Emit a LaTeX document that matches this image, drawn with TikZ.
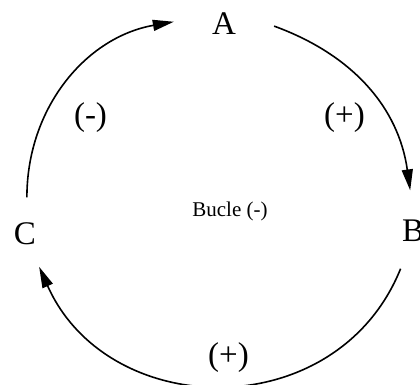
\documentclass[tikz,border=0pt]{standalone}
\usepackage{fontspec}
\setmainfont{Liberation Serif}
\usetikzlibrary{arrows.meta}
\definecolor{ink}{HTML}{000000}
\tikzset{
  var/.style={circle,inner sep=0pt,font=\fontsize{33}{33}\selectfont,text=ink},
  sign/.style={inner sep=0pt,font=\fontsize{33}{33}\selectfont,text=ink},
  loopname/.style={inner sep=0pt,font=\fontsize{21}{21}\selectfont,text=ink},
  ar/.style={-{Triangle[length=21pt,width=11pt]},draw=ink,line width=1.6pt},
}
\begin{document}
\begin{tikzpicture}[x=1pt,y=1pt]
  \useasboundingbox (0,0) rectangle (420,385);
  \node[var,minimum size=100pt] (A) at (224,361.5) {A};
  \node[var,minimum size=80pt] (B) at (413,154.5) {B};
  \node[var,minimum size=72pt] (C) at (25,151.5) {C};
  \node[loopname] (bucle) at (230,173.5) {Bucle (-)};
  \node[sign] (sAB) at (344.5,267.5) {(+)};
  \node[sign] (sBC) at (228.5,27.5) {(+)};
  \node[sign] (sCA) at (90.5,267.5) {(-)};
  \draw[ar] (A.-3) to[out=-20,in=98] (B.94);
  \draw[ar] (B.252) to[out=-112,in=-66,looseness=1.2] (C.293);
  \draw[ar] (C.87) to[out=90,in=190] (A.178);
\end{tikzpicture}
\end{document}
